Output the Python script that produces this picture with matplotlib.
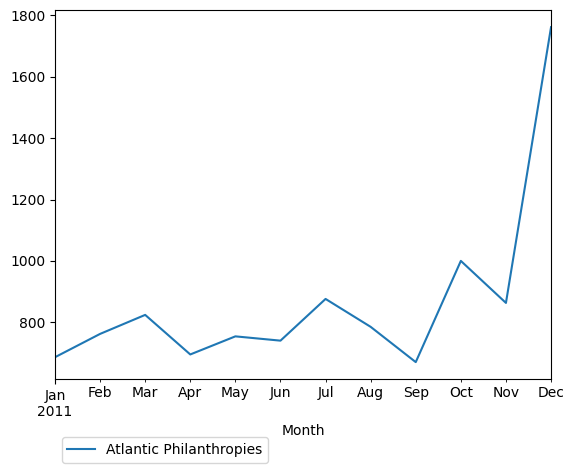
import matplotlib
matplotlib.use("Agg")
import matplotlib.pyplot as plt
import pandas as pd

months = pd.period_range("2011-01", periods=12, freq="M")
values = [686, 762, 824, 695, 754, 740, 876, 785, 670, 1000, 863, 1762]
series_name = "Atlantic Philanthropies"

df = pd.DataFrame({series_name: values}, index=months)
df.index.name = "Month"

fig = plt.figure(figsize=(5.74, 4.73), dpi=100)
ax = fig.add_axes([0.0958, 0.199, 0.8642, 0.779])
df.plot(ax=ax)
ax.legend(loc="upper left", bbox_to_anchor=(0, -0.14))
fig.savefig("out.png", dpi=100)
